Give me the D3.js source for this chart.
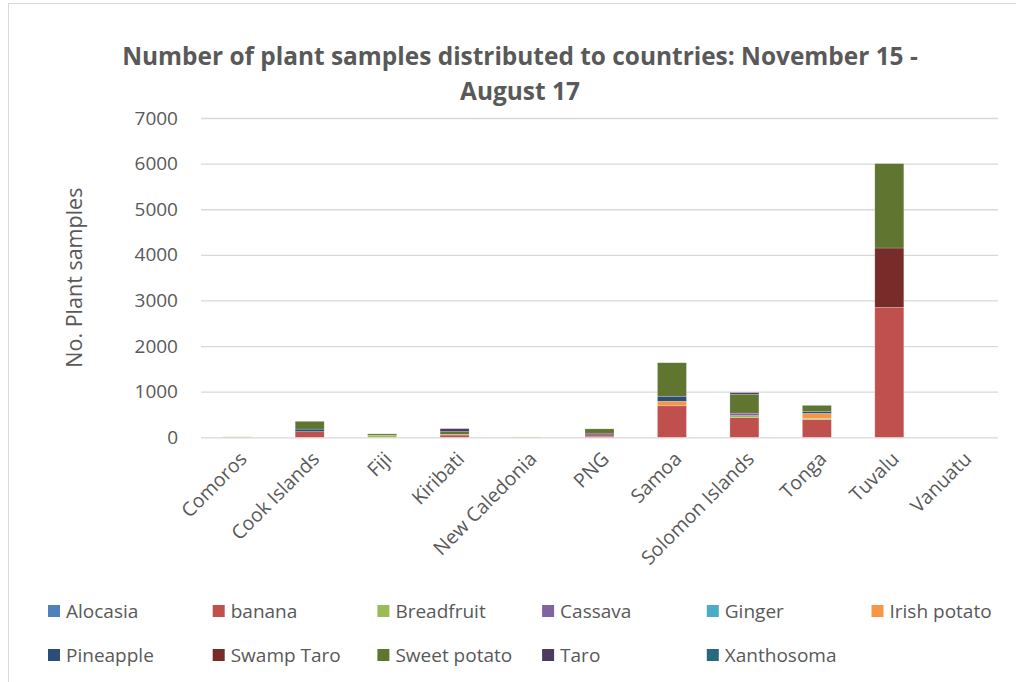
<!DOCTYPE html>
<html>
<head>
<meta charset="utf-8">
<script src="https://cdn.jsdelivr.net/npm/d3@7"></script>
<style>
  body { margin: 0; background: #fff; }
  text { font-family: "Open Sans", "Noto Sans", sans-serif; fill: #595959; }
</style>
</head>
<body>
<div id="chart-area"></div>
<script>
// categories and series
var countries = ["Comoros", "Cook Islands", "Fiji", "Kiribati", "New Caledonia", "PNG",
                 "Samoa", "Solomon Islands", "Tonga", "Tuvalu", "Vanuatu"];
var plants = ["Alocasia", "banana", "Breadfruit", "Cassava", "Ginger", "Irish potato",
              "Pineapple", "Swamp Taro", "Sweet potato", "Taro", "Xanthosoma"];
var plantColors = ["#4F81BD", "#C0504D", "#9BBB59", "#8064A2", "#4BACC6", "#F79646",
                   "#2C4D75", "#772C2A", "#5F7530", "#4D3B62", "#276A7C"];

var alocasia    = [0, 0, 0, 0, 0, 0, 0, 0, 0, 0, 0];
var banana      = [0, 125, 0, 50, 0, 25, 690, 430, 385, 2850, 0];
var breadfruit  = [10, 0, 45, 15, 8, 0, 0, 45, 30, 0, 0];
var cassava     = [0, 0, 0, 0, 0, 30, 0, 55, 0, 0, 0];
var ginger      = [0, 0, 0, 0, 0, 0, 0, 0, 0, 0, 0];
var irishPotato = [0, 0, 0, 0, 0, 0, 100, 0, 110, 0, 0];
var pineapple   = [0, 55, 0, 0, 0, 0, 110, 0, 45, 0, 0];
var swampTaro   = [0, 0, 0, 0, 0, 35, 0, 0, 0, 1300, 0];
var sweetPotato = [0, 170, 30, 60, 0, 95, 735, 415, 130, 1850, 0];
var taro        = [0, 0, 0, 65, 0, 0, 0, 35, 0, 0, 0];
var xanthosoma  = [0, 0, 0, 0, 0, 0, 0, 0, 0, 0, 0];

var yTicks = [0, 1000, 2000, 3000, 4000, 5000, 6000, 7000];

var seriesValues = [alocasia, banana, breadfruit, cassava, ginger, irishPotato,
                    pineapple, swampTaro, sweetPotato, taro, xanthosoma];

// table for d3.stack
var table = countries.map(function(c, i) {
    var row = {country: c};
    plants.forEach(function(p, j) { row[p] = seriesValues[j][i]; });
    return row;
});

var width = 1016, height = 682;
var plot = {left: 201, right: 998, top: 118, bottom: 437.3};

var svg = d3.select("#chart-area").append("svg")
    .attr("width", width)
    .attr("height", height);

// chart area border
svg.append("rect")
    .attr("x", 8.5).attr("y", 3.5)
    .attr("width", width + 10).attr("height", height + 10)
    .attr("fill", "none")
    .attr("stroke", "#d9d9d9")
    .attr("stroke-width", 1);

var x = d3.scaleBand()
    .domain(countries)
    .range([plot.left, plot.right])
    .paddingInner(0.6)
    .paddingOuter(0.3);

var y = d3.scaleLinear()
    .domain([0, 7000])
    .range([plot.bottom, plot.top]);

// gridlines + y labels
var yAxis = d3.axisLeft(y).tickValues(yTicks).tickSize(0).tickPadding(0)
    .tickFormat(d3.format("d"));
var gy = svg.append("g")
    .attr("transform", "translate(" + plot.left + ",0)")
    .call(yAxis);
gy.select(".domain").remove();
gy.selectAll(".tick line")
    .attr("x2", plot.right - plot.left)
    .attr("stroke", "#d9d9d9")
    .attr("stroke-width", 1.3);
gy.selectAll(".tick text")
    .attr("x", -23)
    .style("font-size", "19px")
    .style("font-family", '"Open Sans", sans-serif')
    .attr("fill", "#595959");

// stacked bars
var stack = d3.stack().keys(plants);
var layers = stack(table);

svg.append("g").selectAll("g")
    .data(layers)
    .enter().append("g")
    .attr("fill", function(d, i) { return plantColors[i]; })
    .selectAll("rect")
    .data(function(d) { return d; })
    .enter().append("rect")
    .attr("x", function(d) { return x(d.data.country); })
    .attr("width", x.bandwidth())
    .attr("y", function(d) { return y(d[1]); })
    .attr("height", function(d) { return Math.max(0, y(d[0]) - y(d[1])); })
    .attr("stroke", "#ffffff")
    .attr("stroke-opacity", 0.35)
    .attr("stroke-width", 0.6);

// x labels, rotated
var xAxis = d3.axisBottom(x).tickSize(0).tickPadding(0);
var gx = svg.append("g")
    .attr("transform", "translate(0," + plot.bottom + ")")
    .call(xAxis);
gx.select(".domain").remove();
gx.selectAll(".tick text")
    .attr("text-anchor", "end")
    .attr("dy", null)
    .attr("y", 0)
    .attr("transform", "translate(-1,11) rotate(-45)")
    .attr("dominant-baseline", "hanging")
    .style("font-size", "19.5px")
    .style("font-family", '"Open Sans", sans-serif')
    .attr("fill", "#595959");

// y axis title
svg.append("text")
    .attr("transform", "translate(82," + ((plot.top + plot.bottom) / 2) + ") rotate(-90)")
    .attr("text-anchor", "middle")
    .style("font-size", "21.5px")
    .text("No. Plant samples");

// chart title, two lines
var titleLines = ["Number of plant samples distributed to countries: November 15 -", "August 17"];
var title = svg.append("g").selectAll("text")
    .data(titleLines)
    .enter().append("text")
    .attr("x", 520)
    .attr("y", function(d, i) { return 65 + i * 35; })
    .attr("text-anchor", "middle")
    .style("font-weight", "bold")
    .style("font-size", "22px")
    .text(function(d) { return d; });
// fit first line to the reference width
var w0 = title.nodes()[0].getComputedTextLength();
var fs = 22 * 796 / w0;
title.style("font-size", fs + "px");

// legend
var legend = svg.append("g").selectAll("g")
    .data(plants)
    .enter().append("g")
    .attr("transform", function(d, i) {
        var col = i % 6, row = Math.floor(i / 6);
        return "translate(" + (48 + col * 164.7) + "," + (611 + row * 44) + ")";
    });
legend.append("rect")
    .attr("x", 0).attr("y", -6)
    .attr("width", 12).attr("height", 12)
    .attr("fill", function(d, i) { return plantColors[i]; });
legend.append("text")
    .attr("x", 18)
    .attr("y", 0)
    .attr("dy", "0.35em")
    .style("font-size", "19px")
    .text(function(d) { return d; });
</script>
</body>
</html>
